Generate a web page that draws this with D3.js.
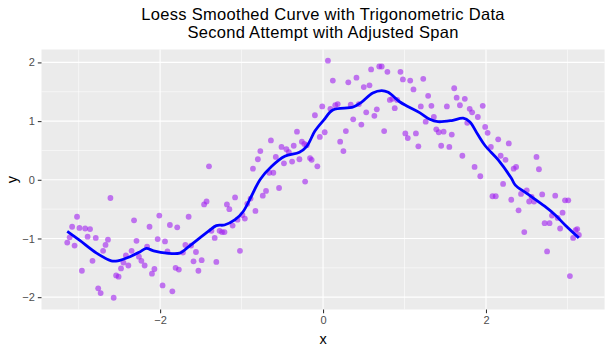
<!DOCTYPE html>
<html>
<head>
<meta charset="utf-8">
<script src="https://cdn.jsdelivr.net/npm/d3@7"></script>
<style>
  body { margin: 0; background: #fff; }
  svg text { font-family: "Liberation Sans", Arial, sans-serif; }
</style>
</head>
<body>
<div id="container"></div>
<script>
// scatter data
const xValues = [
  -3.14, -3.11, -3.08, -3.05, -3.02, -2.99, -2.96, -2.92, -2.89, -2.86,
  -2.83, -2.79, -2.76, -2.73, -2.70, -2.67, -2.64, -2.61, -2.57, -2.54,
  -2.51, -2.48, -2.45, -2.42, -2.39, -2.35, -2.32, -2.29, -2.26, -2.23,
  -2.19, -2.16, -2.13, -2.10, -2.07, -2.03, -2.01, -1.97, -1.94, -1.91,
  -1.88, -1.85, -1.81, -1.79, -1.77, -1.72, -1.69, -1.65, -1.62, -1.59,
  -1.56, -1.53, -1.49, -1.46, -1.43, -1.40, -1.37, -1.33, -1.31, -1.27,
  -1.24, -1.21, -1.18, -1.15, -1.11, -1.08, -1.05, -1.02, -0.99, -0.96,
  -0.93, -0.89, -0.86, -0.83, -0.80, -0.77, -0.74, -0.70, -0.66, -0.64,
  -0.61, -0.58, -0.54, -0.51, -0.48, -0.45, -0.42, -0.38, -0.36, -0.32,
  -0.29, -0.26, -0.23, -0.22, -0.20, -0.16, -0.14, -0.10, -0.07, -0.04,
  -0.01, 0.02, 0.06, 0.09, 0.12, 0.15, 0.18, 0.21, 0.25, 0.28,
  0.31, 0.34, 0.37, 0.41, 0.44, 0.47, 0.50, 0.53, 0.57, 0.59,
  0.63, 0.66, 0.69, 0.72, 0.75, 0.79, 0.82, 0.85, 0.88, 0.91,
  0.95, 0.98, 1.01, 1.04, 1.07, 1.11, 1.14, 1.17, 1.20, 1.23,
  1.26, 1.29, 1.33, 1.36, 1.39, 1.42, 1.45, 1.48, 1.52, 1.55,
  1.58, 1.61, 1.64, 1.68, 1.71, 1.74, 1.77, 1.80, 1.83, 1.86,
  1.90, 1.93, 1.96, 1.99, 2.02, 2.06, 2.08, 2.12, 2.15, 2.18,
  2.21, 2.24, 2.28, 2.31, 2.34, 2.37, 2.40, 2.43, 2.47, 2.50,
  2.53, 2.56, 2.59, 2.62, 2.65, 2.69, 2.72, 2.75, 2.78, 2.81,
  2.85, 2.88, 2.91, 2.94, 2.97, 3.01, 3.03, 3.07, 3.10, 3.12, 3.14
];
const yValues = [
  -1.07, -0.98, -0.80, -1.12, -0.63, -0.82, -1.55, -0.83, -0.97, -0.84,
  -1.38, -0.99, -1.85, -1.93, -1.21, -1.11, -1.02, -0.31, -2.01, -1.63,
  -1.65, -1.51, -1.41, -1.29, -1.46, -1.21, -0.69, -1.04, -1.31, -1.38,
  -1.46, -1.14, -0.80, -1.60, -1.52, -1.01, -0.61, -1.80, -1.05, -1.22,
  -0.77, -1.90, -1.50, -0.81, -1.53, -1.24, -1.11, -0.63, -1.12, -1.39,
  -1.23, -1.55, -1.37, -0.42, -0.37, 0.23, -0.87, -0.99, -1.40, -0.87,
  -0.89, -0.89, -0.42, -0.50, -0.78, -0.30, -0.68, -1.21, -0.60, -0.66,
  -0.41, -0.32, 0.19, -0.53, 0.35, 0.49, -0.27, -0.19, 0.12, 0.67,
  0.12, 0.39, -0.14, 0.56, 0.28, 0.52, 0.47, 0.31, 0.58, 0.82,
  0.35, 0.65, 0.61, -0.03, 0.59, 0.37, 0.34, 1.10, 0.23, 0.73,
  1.25, 0.81, 2.03, 1.21, 1.69, 1.27, 1.29, 0.65, 0.49, 0.83,
  1.66, 1.28, 1.03, 1.74, 1.29, 0.94, 1.58, 1.15, 1.61, 1.88,
  1.09, 1.20, 1.93, 1.93, 0.83, 1.84, 1.36, 1.38, 1.22, 1.36,
  1.84, 1.71, 0.79, 0.71, 1.69, 1.54, 0.79, 0.57, 1.25, 1.72,
  0.99, 1.43, 1.26, 1.07, 0.86, 0.81, 0.58, 0.82, 1.25, 0.56,
  0.77, 1.56, 1.40, 1.27, 0.41, 1.38, 0.97, 1.21, 1.15, 0.22,
  1.07, 0.06, 1.26, 0.90, 0.80, 0.56, -0.28, -0.28, 0.69, 0.41,
  -0.07, 0.34, 0.62, -0.34, 0.19, 0.22, -0.52, -0.24, -0.89, -0.18,
  -0.37, -0.29, -0.37, 0.39, 0.18, -0.25, -0.74, -1.22, -0.74, -0.61,
  -0.27, -0.65, -0.83, -0.56, -0.35, -0.35, -1.64, -0.99, -0.86, -0.84, -0.94
];

// loess curve
const curveX = [
  -3.14, -2.99, -2.78, -2.60, -2.52, -2.37, -2.25, -2.17, -2.08, -1.92,
  -1.76, -1.66, -1.41, -1.31, -1.21, -1.08, -0.98, -0.88, -0.77, -0.63,
  -0.47, -0.29, -0.20, -0.10, 0.01, 0.12, 0.37, 0.47, 0.61, 0.72,
  0.80, 0.94, 1.04, 1.19, 1.31, 1.41, 1.58, 1.72, 1.80, 1.90,
  1.99, 2.15, 2.31, 2.36, 2.50, 2.72, 2.85, 2.97, 3.14
];
const curveY = [
  -0.88, -1.03, -1.25, -1.38, -1.38, -1.31, -1.23, -1.17, -1.21, -1.25,
  -1.25, -1.15, -0.88, -0.78, -0.77, -0.68, -0.54, -0.28, 0.01, 0.23,
  0.40, 0.47, 0.57, 0.83, 1.02, 1.19, 1.24, 1.32, 1.48, 1.52,
  1.49, 1.33, 1.25, 1.14, 1.03, 0.99, 1.01, 1.05, 0.99, 0.77,
  0.58, 0.34, 0.03, -0.09, -0.23, -0.45, -0.60, -0.77, -0.99
];

const xTicks = [-2, 0, 2];
const yTicks = [-2, -1, 0, 1, 2];
const xMinor = [-3, -1, 1, 3];
const yMinor = [-1.5, -0.5, 0.5, 1.5];
const titleLines = ["Loess Smoothed Curve with Trigonometric Data", "Second Attempt with Adjusted Span"];

const width = 614, height = 353;
const panel = { left: 41.5, right: 604.6, top: 49.5, bottom: 309.5 };

const svg = d3.select("#container").append("svg")
  .attr("width", width)
  .attr("height", height);

const x = d3.scaleLinear().domain([-3.456, 3.456]).range([panel.left, panel.right]);
const y = d3.scaleLinear().domain([-2.21, 2.22]).range([panel.bottom, panel.top]);

// panel background
svg.append("rect")
  .attr("x", panel.left).attr("y", panel.top)
  .attr("width", panel.right - panel.left)
  .attr("height", panel.bottom - panel.top)
  .attr("fill", "#EBEBEB");

const grid = svg.append("g");
grid.selectAll(".xminor").data(xMinor).join("line")
  .attr("x1", d => x(d)).attr("x2", d => x(d))
  .attr("y1", panel.top).attr("y2", panel.bottom)
  .attr("stroke", "#fff").attr("stroke-width", 0.55);
grid.selectAll(".yminor").data(yMinor).join("line")
  .attr("y1", d => y(d)).attr("y2", d => y(d))
  .attr("x1", panel.left).attr("x2", panel.right)
  .attr("stroke", "#fff").attr("stroke-width", 0.55);
grid.selectAll(".xmajor").data(xTicks).join("line")
  .attr("x1", d => x(d)).attr("x2", d => x(d))
  .attr("y1", panel.top).attr("y2", panel.bottom)
  .attr("stroke", "#fff").attr("stroke-width", 1.1);
grid.selectAll(".ymajor").data(yTicks).join("line")
  .attr("y1", d => y(d)).attr("y2", d => y(d))
  .attr("x1", panel.left).attr("x2", panel.right)
  .attr("stroke", "#fff").attr("stroke-width", 1.1);

// points
const points = xValues.map((d, i) => ({ x: d, y: yValues[i] }));
svg.append("g").selectAll("circle")
  .data(points)
  .join("circle")
  .attr("cx", d => x(d.x))
  .attr("cy", d => y(d.y))
  .attr("r", 2.9)
  .attr("fill", "#A020F0")
  .attr("fill-opacity", 0.6);

// smoothed curve
const line = d3.line()
  .x(d => x(d[0]))
  .y(d => y(d[1]))
  .curve(d3.curveCatmullRom);
svg.append("path")
  .datum(curveX.map((d, i) => [d, curveY[i]]))
  .attr("d", line)
  .attr("fill", "none")
  .attr("stroke", "#0000FF")
  .attr("stroke-width", 2.8)
  .attr("stroke-linejoin", "round");

// axes
const xAxis = svg.append("g")
  .attr("transform", `translate(0,${panel.bottom})`)
  .call(d3.axisBottom(x).tickValues(xTicks).tickSize(3.7).tickPadding(3).tickFormat(d3.format("d")));
const yAxis = svg.append("g")
  .attr("transform", `translate(${panel.left},0)`)
  .call(d3.axisLeft(y).tickValues(yTicks).tickSize(3.7).tickPadding(3).tickFormat(d3.format("d")));
[xAxis, yAxis].forEach(a => {
  a.select(".domain").remove();
  a.selectAll(".tick line").attr("stroke", "#333").attr("stroke-width", 1.07);
  a.selectAll(".tick text").attr("fill", "#4D4D4D").style("font-size", "11px")
    .style("font-family", '"Liberation Sans", Arial, sans-serif');
});

// axis titles
svg.append("text")
  .attr("x", (panel.left + panel.right) / 2).attr("y", 344)
  .attr("text-anchor", "middle")
  .style("font-size", "14.5px")
  .text("x");
svg.append("text")
  .attr("transform", `translate(17,${(panel.top + panel.bottom) / 2}) rotate(-90)`)
  .attr("text-anchor", "middle")
  .style("font-size", "14.5px")
  .text("y");

// title
svg.append("g").selectAll("text")
  .data(titleLines)
  .join("text")
  .attr("x", (panel.left + panel.right) / 2)
  .attr("y", (d, i) => 20 + i * 17.8)
  .attr("text-anchor", "middle")
  .style("font-size", "16.5px")
  .style("letter-spacing", "0.3px")
  .text(d => d);
</script>
</body>
</html>
